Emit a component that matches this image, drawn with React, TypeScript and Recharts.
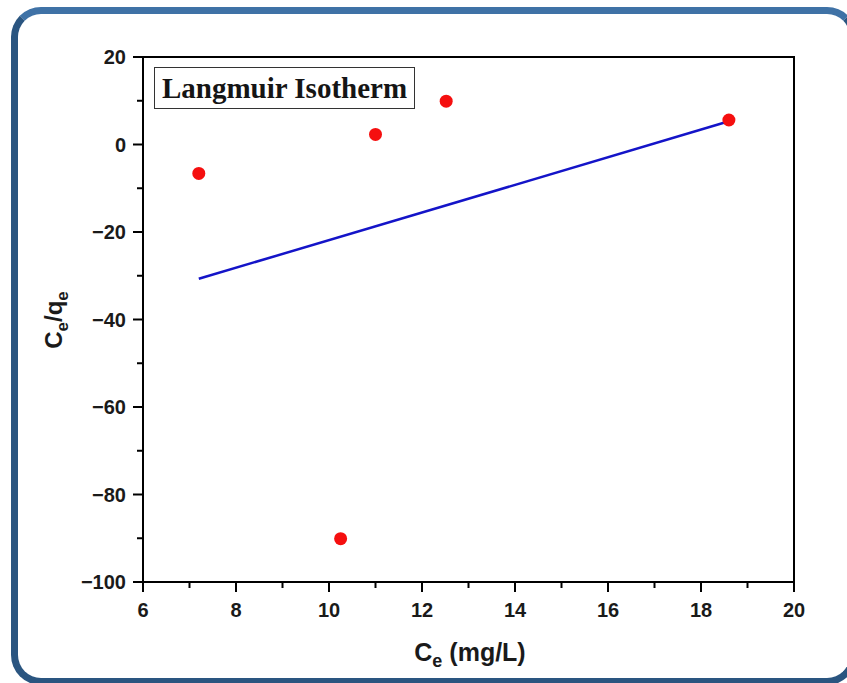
import React from 'react';
import { ScatterChart, Scatter, XAxis, YAxis, ReferenceArea } from 'recharts';

// Experimental points (Ce, Ce/qe)
const ceValues = [7.2, 10.25, 11.0, 12.52, 18.6];
const ceQeValues = [-6.6, -90.1, 2.3, 9.9, 5.6];

// Linear fit endpoints
const fitCe = [7.2, 18.6];
const fitCeQe = [-30.7, 5.3];

const xTicks = [6, 7, 8, 9, 10, 11, 12, 13, 14, 15, 16, 17, 18, 19, 20];
const yTicks = [-100, -90, -80, -70, -60, -50, -40, -30, -20, -10, 0, 10, 20];
const xMajor = [6, 8, 10, 12, 14, 16, 18, 20];
const yMajor = [-100, -80, -60, -40, -20, 0, 20];

const points = ceValues.map((x, i) => ({ x, y: ceQeValues[i] }));
const fitLine = fitCe.map((x, i) => ({ x, y: fitCeQe[i] }));

const tickFont = { fontFamily: '"Liberation Sans", Arial, sans-serif', fontWeight: 700, fontSize: 20, fill: '#1a1a1a' };
const fmt = (v: number) => (v < 0 ? '\u2212' + Math.abs(v) : String(v));

const YTick = (props: any) => {
  const { x, y, payload } = props;
  const major = yMajor.includes(payload.value);
  const len = major ? 10 : 6;
  return (
    <g>
      <line x1={x - len} x2={x} y1={y} y2={y} stroke="#000" strokeWidth={2} />
      {major && (
        <text x={x - 17} y={y} dy="0.36em" textAnchor="end" {...tickFont}>
          {fmt(payload.value)}
        </text>
      )}
    </g>
  );
};

const XTick = (props: any) => {
  const { x, y, payload } = props;
  const major = xMajor.includes(payload.value);
  const len = major ? 10 : 6;
  return (
    <g>
      <line x1={x} x2={x} y1={y} y2={y + len} stroke="#000" strokeWidth={2} />
      {major && (
        <text x={x} y={y + 35} textAnchor="middle" {...tickFont}>
          {fmt(payload.value)}
        </text>
      )}
    </g>
  );
};

const labelFont = { fontFamily: '"Liberation Sans", Arial, sans-serif', fontWeight: 700, fill: '#1a1a1a' };

export default function App() {
  return (
    <div style={{ position: 'fixed', left: 0, top: 0, width: 847, height: 683, overflow: 'hidden', background: '#fff' }}>
      <div
        style={{
          position: 'absolute',
          left: 11,
          top: 7,
          width: 846,
          height: 678,
          boxSizing: 'border-box',
          border: '7px solid #2a5580',
          borderTopColor: '#3f72a6',
          borderRadius: 30,
        }}
      />
      <div style={{ position: 'absolute', left: 0, top: 0 }}>
        <ScatterChart width={847} height={683} margin={{ top: 57, right: 53, bottom: 41, left: 83 }}>
          <XAxis
            type="number"
            dataKey="x"
            domain={[6, 20]}
            ticks={xTicks}
            interval={0}
            height={60}
            tickSize={0}
            tickMargin={0}
            tickLine={false}
            tick={<XTick />}
            axisLine={{ stroke: '#000', strokeWidth: 2 }}
            allowDataOverflow
          />
          <YAxis
            type="number"
            dataKey="y"
            domain={[-100, 20]}
            ticks={yTicks}
            interval={0}
            width={60}
            tickSize={0}
            tickMargin={0}
            tickLine={false}
            tick={<YTick />}
            axisLine={{ stroke: '#000', strokeWidth: 2 }}
            allowDataOverflow
          />
          <ReferenceArea x1={6} x2={20} y1={-100} y2={20} fill="none" stroke="#000" strokeWidth={2} ifOverflow="visible" />
          <Scatter
            data={fitLine}
            line={{ stroke: '#1414c8', strokeWidth: 2.5 }}
            shape={() => <g />}
            isAnimationActive={false}
          />
          <Scatter
            data={points}
            fill="#f50f0f"
            isAnimationActive={false}
            shape={(p: any) => <circle cx={p.cx} cy={p.cy} r={6.5} fill="#f50f0f" />}
          />
          <text x={470} y={661} textAnchor="middle" {...labelFont} fontSize={25}>
            C<tspan fontSize={18} dy={6}>e</tspan>
            <tspan dy={-6}> (mg/L)</tspan>
          </text>
          <text x={62} y={320} textAnchor="middle" transform="rotate(-90 62 320)" {...labelFont} fontSize={24}>
            C<tspan fontSize={17} dy={6}>e</tspan>
            <tspan dy={-6}>/q</tspan>
            <tspan fontSize={17} dy={6}>e</tspan>
          </text>
        </ScatterChart>
      </div>
      <div
        style={{
          position: 'absolute',
          left: 154,
          top: 67,
          width: 261,
          height: 42,
          boxSizing: 'border-box',
          border: '1.5px solid #333',
          display: 'flex',
          alignItems: 'center',
          justifyContent: 'center',
          fontFamily: '"Liberation Serif", "Times New Roman", serif',
          fontWeight: 700,
          fontSize: 29,
          color: '#151515',
          whiteSpace: 'nowrap',
        }}
      >
        Langmuir Isotherm
      </div>
    </div>
  );
}
